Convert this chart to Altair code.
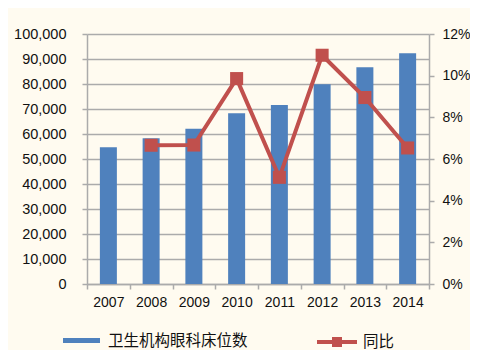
import altair as alt
import pandas as pd

years = ["2007", "2008", "2009", "2010", "2011", "2012", "2013", "2014"]
beds = [54700, 58300, 62100, 68300, 71600, 79900, 86700, 92300]
yoy = [None, 6.66, 6.67, 9.86, 5.12, 10.98, 8.95, 6.53]

bar_name = "卫生机构眼科床位数"
line_name = "同比"

df = pd.DataFrame({"year": years, "beds": beds, "yoy": [None if v is None else v / 100 for v in yoy]})
df["bar_s"] = bar_name
df["line_s"] = line_name

BLUE = "#4F81BD"
RED = "#C0504D"
GRID = "#ABABAB"
FONT = "Liberation Sans"
CJK = "Noto Sans CJK SC"

x = alt.X("year:N", sort=years, title=None,
          scale=alt.Scale(paddingInner=0, paddingOuter=0),
          axis=alt.Axis(labelAngle=0, tickBand="extent", domainColor=GRID, tickColor=GRID,
                        domainWidth=1.5, tickWidth=1.5, tickSize=5, labelPadding=6,
                        labelFont=FONT, labelFontSize=14, labelColor="#111"))

bars = alt.Chart(df).mark_bar(size=17).encode(
    x=x,
    y=alt.Y("beds:Q", title=None,
            scale=alt.Scale(domain=[0, 100000], nice=False),
            axis=alt.Axis(values=list(range(0, 100001, 10000)), format=",.0f", grid=True,
                          gridColor=GRID, gridWidth=1.5, domainColor=GRID, domainWidth=1.5,
                          tickColor=GRID, tickWidth=1.5, tickSize=5, labelPadding=16,
                          labelFont=FONT, labelFontSize=14.5, labelColor="#111")),
    fill=alt.Fill("bar_s:N", scale=alt.Scale(domain=[bar_name], range=[BLUE]),
                  legend=alt.Legend(title=None, orient="none", legendX=-24, legendY=288,
                                    symbolType="M-1,-0.13H1V0.13H-1Z", symbolSize=1369,
                                    symbolStrokeWidth=0, labelFont=CJK, labelFontSize=15.5,
                                    labelColor="#111", labelOffset=8)),
)

yr = alt.Y("yoy:Q", title=None,
           scale=alt.Scale(domain=[0, 0.12], nice=False),
           axis=alt.Axis(orient="right", values=[0, 0.02, 0.04, 0.06, 0.08, 0.10, 0.12],
                         format=".0%", grid=False, domainColor=GRID, domainWidth=1.5,
                         tickColor=GRID, tickWidth=1.5, tickSize=5, labelPadding=8,
                         labelFont=FONT, labelFontSize=14, labelColor="#111"))

line = alt.Chart(df).mark_line(strokeWidth=4, color=RED).encode(
    x=x, y=yr,
    stroke=alt.Stroke("line_s:N", scale=alt.Scale(domain=[line_name], range=[RED]),
                      legend=alt.Legend(title=None, orient="none", legendX=228, legendY=286,
                                        symbolType="M-1,0H1M-0.15,-0.15H0.15V0.15H-0.15Z",
                                        symbolSize=1600, symbolStrokeWidth=4,
                                        symbolFillColor=RED,
                                        labelFont=CJK, labelFontSize=15.5,
                                        labelColor="#111", labelOffset=4)),
)
pts = alt.Chart(df).mark_point(shape="square", size=170, filled=True, color=RED, opacity=1).encode(
    x=x, y=yr,
)

chart = alt.layer(bars, alt.layer(line, pts)).resolve_scale(y="independent").properties(
    width=342, height=250,
    autosize=alt.AutoSizeParams(type="none"),
    padding={"left": 79, "top": 26, "right": 41, "bottom": 66},
    background="#FFFBF0",
).configure_view(stroke=None)

chart.save("out.html", embed_options={"renderer": "svg", "actions": False})
